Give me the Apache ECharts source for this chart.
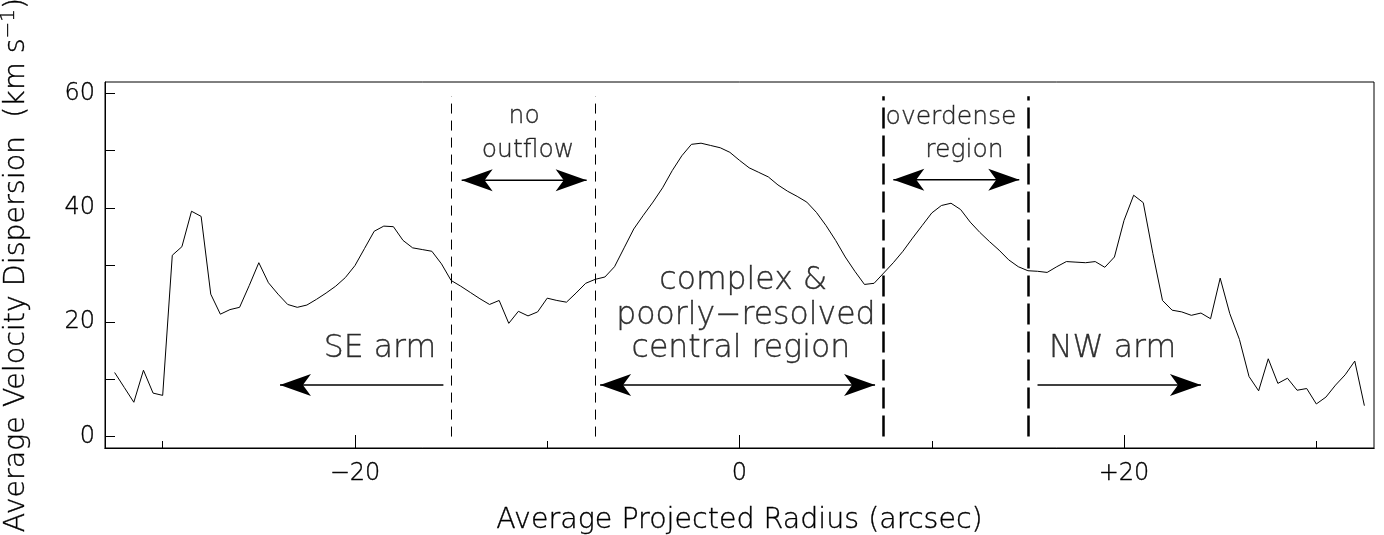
<!DOCTYPE html>
<html><head><meta charset="utf-8">
<script src="https://cdn.jsdelivr.net/npm/echarts@6/dist/echarts.min.js"></script>
<style>html,body{margin:0;padding:0;background:#fff}#c{width:1384px;height:535px}</style>
</head><body><div id="c"></div>
<script>
// Average projected radius (arcsec)
const radius = [
  -32.5, -32.0, -31.5, -31.0, -30.5, -30.0, -29.5, -29.0, -28.5, -28.0,
  -27.5, -27.0, -26.5, -26.0, -25.5, -25.0, -24.5, -24.0, -23.5, -23.0,
  -22.5, -22.0, -21.5, -21.0, -20.5, -20.0, -19.5, -19.0, -18.5, -18.0,
  -17.5, -17.0, -16.5, -16.0, -15.5, -15.0, -14.5, -14.0, -13.5, -13.0,
  -12.5, -12.0, -11.5, -11.0, -10.5, -10.0, -9.5, -9.0, -8.5, -8.0,
  -7.5, -7.0, -6.5, -6.0, -5.5, -5.0, -4.5, -4.0, -3.5, -3.0,
  -2.5, -2.0, -1.5, -1.0, -0.5, 0.0, 0.5, 1.0, 1.5, 2.0,
  2.5, 3.0, 3.5, 4.0, 4.5, 5.0, 5.5, 6.0, 6.5, 7.0,
  7.5, 8.0, 8.5, 9.0, 9.5, 10.0, 10.5, 11.0, 11.5, 12.0,
  12.5, 13.0, 13.5, 14.0, 14.5, 15.0, 15.5, 16.0, 16.5, 17.0,
  17.5, 18.0, 18.5, 19.0, 19.5, 20.0, 20.5, 21.0, 21.5, 22.0,
  22.5, 23.0, 23.5, 24.0, 24.5, 25.0, 25.5, 26.0, 26.5, 27.0,
  27.5, 28.0, 28.5, 29.0, 29.5, 30.0, 30.5, 31.0, 31.5, 32.0, 32.5
];
// Average velocity dispersion (km/s)
const dispersion = [
  11.2, 8.6, 6.0, 11.6, 7.6, 7.2, 31.7, 33.2, 39.4, 38.5,
  24.9, 21.4, 22.2, 22.6, 26.4, 30.4, 26.9, 24.9, 23.1, 22.6,
  23.0, 24.0, 25.1, 26.3, 27.8, 29.9, 32.9, 35.9, 36.8, 36.7,
  34.3, 33.0, 32.7, 32.4, 30.2, 27.3, 26.3, 25.2, 24.1, 23.1,
  23.8, 19.8, 21.9, 21.1, 21.8, 24.2, 23.8, 23.5, 25.1, 26.8,
  27.5, 27.9, 29.7, 33.0, 36.3, 38.7, 41.0, 43.5, 46.5, 49.1,
  51.1, 51.3, 50.9, 50.5, 49.7, 48.3, 47.0, 46.2, 45.4, 44.0,
  42.9, 42.0, 41.0, 39.2, 36.9, 34.3, 31.4, 28.9, 26.6, 26.8,
  28.6, 30.4, 32.4, 34.7, 36.9, 39.1, 40.4, 40.8, 39.7, 37.5,
  35.7, 34.1, 32.6, 30.9, 29.7, 29.0, 28.9, 28.7, 29.7, 30.6,
  30.5, 30.4, 30.6, 29.6, 31.4, 37.8, 42.2, 40.9, 32.0, 23.8,
  22.1, 21.8, 21.2, 21.6, 20.6, 27.7, 21.5, 17.0, 10.5, 8.0,
  13.6, 9.3, 10.2, 8.1, 8.4, 5.7, 6.9, 9.0, 10.8, 13.2, 5.4
];
const xLabelTicks = [-20, 0, 20];
const xMinorTicks = [-30, -10, 10, 30];
const yTicks = [0, 10, 20, 30, 40, 50, 60];
const yLabelTicks = [0, 20, 40, 60];
// region boundaries (arcsec) and their vertical extent (km/s)
const thinBoundaries = [-15, -7.5];
const thickBoundaries = [7.5, 15];
const boundaryExtent = [0, 59.5];
// arrows: [x start, x end, y, 1 = double-headed]
const arrows = [[-14.45, -7.95, 44.8, 1], [8.0, 14.55, 44.9, 1], [-7.25, 7.05, 9.0, 1], [-15.4, -23.9, 9.0, 0], [15.5, 24.0, 9.0, 0]];
// annotation text: [text, x centre, y baseline]
const smallTexts = [['no', -11.2, 54.9], ['outflow', -11.0, 48.8], ['overdense', 11.0, 54.7], ['region', 11.7, 48.8]];
const largeTexts = [['complex &', 0.2, 25.9], ['poorly−resolved', 0.33, 19.8], ['central region', 0.07, 13.95], ['SE arm', -18.7, 13.95], ['NW arm', 19.4, 13.95]];

const FONT = 'DejaVu Sans';
const WEIGHT = 200;
const TB = {textBorderColor: '#000', textBorderWidth: 0.35};
const chart = echarts.init(document.getElementById('c'), null, {renderer: 'canvas'});
const fmtX = v => v > 0 ? '+' + v : (v < 0 ? '−' + Math.abs(v) : '0');

const markLines = [];
thinBoundaries.forEach(x => markLines.push([
  {coord: [x, boundaryExtent[0]], lineStyle: {color: '#000', width: 1, type: [10, 7]}},
  {coord: [x, boundaryExtent[1]]}
]));
thickBoundaries.forEach(x => markLines.push([
  {coord: [x, boundaryExtent[0]], lineStyle: {color: '#000', width: 2.5, type: [21, 7]}},
  {coord: [x, boundaryExtent[1]]}
]));

const HEAD_L = 31, HEAD_W = 22;
function head(tip, from) {
  const dx = tip[0] - from[0], dy = tip[1] - from[1];
  const len = Math.hypot(dx, dy) || 1;
  const ux = dx / len, uy = dy / len, nx = -uy, ny = ux;
  return [
    tip,
    [tip[0] - ux * HEAD_L + nx * HEAD_W / 2, tip[1] - uy * HEAD_L + ny * HEAD_W / 2],
    [tip[0] - ux * HEAD_L * 0.74, tip[1] - uy * HEAD_L * 0.74],
    [tip[0] - ux * HEAD_L - nx * HEAD_W / 2, tip[1] - uy * HEAD_L - ny * HEAD_W / 2]
  ];
}
function renderArrow(params, api) {
  const a = api.coord([api.value(0), api.value(2)]);
  const b = api.coord([api.value(1), api.value(2)]);
  const children = [
    {type: 'line', shape: {x1: a[0], y1: a[1], x2: b[0], y2: b[1]}, style: {stroke: '#000', lineWidth: 1.5}},
    {type: 'polygon', shape: {points: head(b, a)}, style: {fill: '#000'}}
  ];
  if (api.value(3) === 1) children.push({type: 'polygon', shape: {points: head(a, b)}, style: {fill: '#000'}});
  return {type: 'group', children};
}

function textSeries(list, size) {
  return {
    type: 'scatter', symbolSize: 1, silent: true, z: 5, xAxisIndex: 1,
    itemStyle: {color: 'rgba(0,0,0,0)'},
    data: list.map(t => ({value: [t[1], t[2]], name: t[0]})),
    label: Object.assign({
      show: true, position: 'inside', formatter: p => p.name,
      fontFamily: FONT, fontWeight: WEIGHT, fontSize: size, color: '#000',
      align: 'center', verticalAlign: 'bottom', offset: [0, Math.round(size * 0.24)]
    }, TB)
  };
}

const axisBase = {
  type: 'value', min: -33, max: 33, position: 'bottom',
  axisLine: {show: true, onZero: false, lineStyle: {color: '#000', width: 1}},
  splitLine: {show: false}
};

chart.setOption({
  animation: false,
  backgroundColor: '#fff',
  textStyle: {fontFamily: FONT, fontWeight: WEIGHT, color: '#000'},
  grid: {left: 105, right: 10, top: 82, bottom: 87, show: true, borderColor: '#000', borderWidth: 1, outerBoundsMode: 'none', containLabel: false},
  xAxis: [
    Object.assign({}, axisBase, {
      axisTick: {show: true, inside: true, length: 7, customValues: xMinorTicks, lineStyle: {color: '#000'}},
      axisLabel: {show: false}
    }),
    Object.assign({}, axisBase, {
      axisTick: {show: true, inside: true, length: 13, customValues: xLabelTicks, lineStyle: {color: '#000'}},
      axisLabel: Object.assign({show: true, customValues: xLabelTicks, formatter: fmtX, fontSize: 24, margin: 14, color: '#000', fontFamily: FONT, fontWeight: WEIGHT}, TB),
      name: 'Average Projected Radius (arcsec)', nameLocation: 'middle', nameGap: 58,
      nameTextStyle: Object.assign({fontSize: 28.5, color: '#000', fontFamily: FONT, fontWeight: WEIGHT}, TB)
    })
  ],
  yAxis: {
    type: 'value', min: -2, max: 62,
    axisLine: {show: true, onZero: false, lineStyle: {color: '#000', width: 1}},
    axisTick: {show: true, inside: true, length: 10, customValues: yTicks, lineStyle: {color: '#000'}},
    axisLabel: Object.assign({show: true, customValues: yLabelTicks, fontSize: 24, margin: 10, color: '#000', fontFamily: FONT, fontWeight: WEIGHT}, TB),
    splitLine: {show: false},
    name: '{a|Average Velocity Dispersion  (km s}{s|−1}{a|)}', nameLocation: 'middle', nameGap: 70, nameRotate: 90,
    nameTextStyle: {
      rich: {
        a: Object.assign({fontSize: 28.5, lineHeight: 36, color: '#000', fontFamily: FONT, fontWeight: WEIGHT}, TB),
        s: Object.assign({fontSize: 20, lineHeight: 20, verticalAlign: 'top', color: '#000', fontFamily: FONT, fontWeight: WEIGHT}, TB)
      }
    }
  },
  series: [
    {
      type: 'line', xAxisIndex: 1, data: radius.map((x, i) => [x, dispersion[i]]),
      symbol: 'none', lineStyle: {color: '#000', width: 1}, z: 3,
      markLine: {silent: true, animation: false, symbol: 'none', label: {show: false}, data: markLines}
    },
    {
      type: 'custom', xAxisIndex: 1, renderItem: renderArrow, silent: true, z: 4,
      encode: {x: [0, 1], y: 2}, data: arrows
    },
    textSeries(smallTexts, 25),
    textSeries(largeTexts, 31.5)
  ]
});
</script></body></html>
